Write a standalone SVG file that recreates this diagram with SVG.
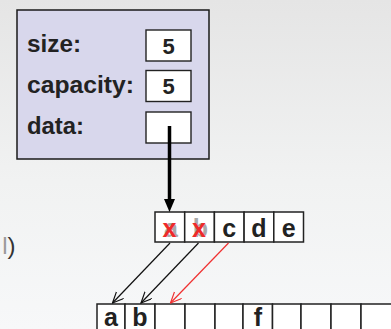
<svg xmlns="http://www.w3.org/2000/svg" width="391" height="329" viewBox="0 0 391 329">
<style>
.lbl{font-family:"Liberation Sans",Arial,sans-serif;font-weight:bold;font-size:23px;fill:#222}
.val{font-family:"Liberation Sans",Arial,sans-serif;font-weight:bold;font-size:22px;fill:#222;text-anchor:middle}
.ch{font-family:"Liberation Sans",Arial,sans-serif;font-weight:bold;font-size:25px;fill:#222;text-anchor:middle}
.old{fill:#a9a9a9}
.x{fill:#ee2a2a}
.cell{fill:#fff;stroke:#222;stroke-width:1.5}
.box{fill:#fff;stroke:#222;stroke-width:1.4}
.ptr{stroke:#111;stroke-width:1.2;fill:none}
.red{stroke:#f03030}
</style>
<defs>
<linearGradient id="bg" x1="0" y1="0" x2="0" y2="1">
<stop offset="0" stop-color="#e5e5e5"/>
<stop offset="0.55" stop-color="#f1f2f2"/>
<stop offset="1" stop-color="#f7f8f9"/>
</linearGradient>
<marker id="open" viewBox="0 0 12 12" markerWidth="12" markerHeight="12" refX="11" refY="5" orient="auto" markerUnits="userSpaceOnUse">
<path d="M0,0 L11,5 L0,10" fill="none" stroke="#111" stroke-width="1.2"/>
</marker>
<marker id="openRed" viewBox="0 0 12 12" markerWidth="12" markerHeight="12" refX="11" refY="5" orient="auto" markerUnits="userSpaceOnUse">
<path d="M0,0 L11,5 L0,10" fill="none" stroke="#f03030" stroke-width="1.2"/>
</marker>
</defs>
<rect width="391" height="329" fill="url(#bg)"/>
<text x="15.5" y="254" font-family="Liberation Sans,Arial,sans-serif" font-size="24" text-anchor="end"><tspan fill="#9a9a9a">l</tspan><tspan fill="#333">)</tspan></text>
<g id="vector">
<rect x="17" y="10" width="192" height="149" fill="#d8d7ec" stroke="#1a1a1a" stroke-width="1.5"/>
</g>
<g id="size">
<text class="lbl" x="27" y="51.5" textLength="54" lengthAdjust="spacingAndGlyphs">size:</text>
<rect class="box" x="146" y="30" width="45" height="31"/>
<text class="val" x="168.5" y="53.5">5</text>
</g>
<g id="capacity">
<text class="lbl" x="27" y="93" textLength="107" lengthAdjust="spacingAndGlyphs">capacity:</text>
<rect class="box" x="146" y="70.5" width="45" height="31"/>
<text class="val" x="168.5" y="94">5</text>
</g>
<g id="data">
<text class="lbl" x="27" y="134" textLength="57" lengthAdjust="spacingAndGlyphs">data:</text>
<rect class="box" x="146" y="112" width="45" height="31"/>
</g>
<g id="old-array">
<rect class="cell" x="155" y="212" width="29.7" height="30"/>
<rect class="cell" x="184.7" y="212" width="29.7" height="30"/>
<rect class="cell" x="214.4" y="212" width="29.7" height="30"/>
<rect class="cell" x="244.1" y="212" width="29.7" height="30"/>
<rect class="cell" x="273.8" y="212" width="29.7" height="30"/>
<text class="ch old" x="171" y="236.5">a</text>
<text class="ch x" x="169.5" y="236.5">x</text>
<text class="ch old" x="200.5" y="236.5">b</text>
<text class="ch x" x="199" y="236.5">x</text>
<text class="ch" x="229.2" y="236.5">c</text>
<text class="ch" x="259" y="236.5">d</text>
<text class="ch" x="288.6" y="236.5">e</text>
</g>
<g id="new-array">
<rect class="cell" x="97" y="304" width="28" height="40"/>
<rect class="cell" x="125" y="304" width="30" height="40"/>
<rect class="cell" x="155" y="304" width="30" height="40"/>
<rect class="cell" x="185" y="304" width="30" height="40"/>
<rect class="cell" x="215" y="304" width="28" height="40"/>
<rect class="cell" x="243" y="304" width="29.5" height="40"/>
<rect class="cell" x="272.5" y="304" width="28.5" height="40"/>
<rect class="cell" x="301" y="304" width="30" height="40"/>
<rect class="cell" x="331" y="304" width="30" height="40"/>
<rect class="cell" x="361" y="304" width="32" height="40"/>
<text class="ch" x="111" y="326">a</text>
<text class="ch" x="140" y="326">b</text>
<text class="ch" x="257.8" y="326">f</text>
</g>
<g id="connectors">
<line x1="169.5" y1="126" x2="169.5" y2="201" stroke="#000" stroke-width="3.5"/>
<polygon points="164,199 175,199 169.5,212" fill="#000"/>
<line class="ptr" x1="170" y1="243" x2="112.5" y2="303" marker-end="url(#open)"/>
<line class="ptr" x1="198.5" y1="243" x2="141" y2="303" marker-end="url(#open)"/>
<line class="ptr red" x1="228.5" y1="243" x2="170.5" y2="303" marker-end="url(#openRed)"/>
</g>
</svg>
